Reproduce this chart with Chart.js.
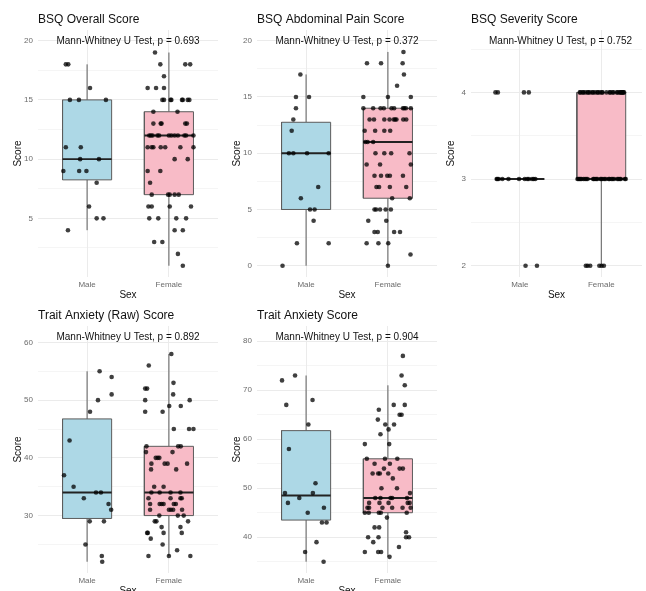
<!DOCTYPE html>
<html><head><meta charset="utf-8">
<script src="https://cdn.jsdelivr.net/npm/chart.js@4.4.0/dist/chart.umd.min.js"></script>
<style>
html,body{margin:0;padding:0;background:#fff;overflow:hidden;width:646px;height:591px;position:relative}
canvas{position:absolute}
</style></head><body>
<canvas id="c1" width="224" height="305" style="left:-2px;top:0px"></canvas>
<canvas id="c2" width="224" height="305" style="left:217px;top:0px"></canvas>
<canvas id="c3" width="215" height="305" style="left:431px;top:0px"></canvas>
<canvas id="c4" width="224" height="305" style="left:-2px;top:296px"></canvas>
<canvas id="c5" width="224" height="305" style="left:217px;top:296px"></canvas>
<script>
// ---------- categories ----------
const categories = ['Male', 'Female'];

// ---------- BSQ Overall Score ----------
const bsqOverallMale = [18,18,16,15,15,15,11,11,10,10,9,9,9,8,6,5,5,4];
const bsqOverallMaleJitter = [-0.26,-0.23,0.036,-0.21,-0.10,0.23,-0.26,-0.077,-0.085,0.145,-0.29,-0.097,-0.008,0.117,0.024,0.117,0.2,-0.234];
const bsqOverallFemale = [19,18,18,18,17,16,16,16,15,15,15,15,15,15,15,15,14,14,13,13,13,13,13,
  12,12,12,12,12,12,12,12,12,12,12,12,11,11,11,11,11,11,11,10,10,9,9,8,7,7,7,7,7,6,6,6,6,5,5,5,5,4,4,3,3,2,1];
const bsqOverallFemaleJitter = [-0.17,-0.105,0.20,0.26,-0.06,-0.26,-0.157,-0.06,-0.08,-0.06,0.02,0.03,0.16,0.17,0.23,0.25,
  -0.19,0.105,-0.19,-0.10,-0.09,0.20,0.22,-0.24,-0.22,-0.20,-0.14,-0.12,0.0,0.03,0.07,0.11,0.19,0.21,0.30,
  -0.26,-0.21,-0.19,-0.10,-0.045,0.14,0.30,0.07,0.23,-0.26,-0.105,-0.23,-0.21,-0.01,0.01,0.07,0.12,
  -0.25,-0.21,0.01,0.27,-0.24,-0.13,0.09,0.21,0.07,0.17,-0.18,-0.08,0.11,0.17];
// box stats: [lower whisker, Q1, median, Q3, upper whisker]
const bsqOverallBoxMale = [4, 8.25, 10, 15, 18];
const bsqOverallBoxFemale = [1, 7, 12, 14, 19];
const bsqOverallTicks = [5, 10, 15, 20];

// ---------- BSQ Abdominal Pain Score ----------
const bsqAbdMale = [17,15,15,14,13,12,10,10,10,10,7,6,5,5,4,2,2,0];
const bsqAbdMaleJitter = [-0.07,-0.124,0.036,-0.124,-0.156,-0.176,-0.21,-0.156,0.012,0.276,0.148,-0.064,0.048,0.104,0.092,-0.112,0.276,-0.288];
const bsqAbdFemale = [19,18,18,18,17,16,15,15,15,14,14,14,14,14,14,14,14,14,14,13,13,13,13,13,13,13,13,13,
  12,12,12,12,11,11,11,10,10,10,10,9,9,9,8,8,8,8,8,7,7,7,7,6,6,5,5,5,5,5,4,4,3,3,3,3,2,2,2,1,0];
const bsqAbdFemaleJitter = [0.19,-0.256,-0.084,0.18,0.196,0.112,-0.30,0.0,0.28,
  -0.3,-0.18,-0.09,-0.05,0.044,0.076,0.184,0.2,0.22,0.28,
  -0.224,-0.17,-0.044,0.02,0.072,0.088,0.104,0.188,0.224,
  -0.284,-0.156,-0.044,0.028,-0.276,-0.248,-0.18,-0.152,-0.044,0.04,0.264,-0.26,-0.096,0.28,
  -0.164,-0.084,-0.008,0.024,0.184,-0.14,-0.108,0.024,0.224,0.052,0.268,
  -0.164,-0.144,-0.096,-0.028,0.036,-0.24,-0.02,-0.164,-0.124,0.076,0.148,-0.26,-0.116,0.004,0.276,0.0];
const bsqAbdBoxMale = [0, 5, 10, 12.75, 17];
const bsqAbdBoxFemale = [0, 6, 11, 14, 19];
const bsqAbdTicks = [0, 5, 10, 15, 20];

// ---------- BSQ Severity Score ----------
const bsqSevMale = [4,4,4,4,3,3,3,3,3,3,3,3,3,3,3,3,2,2];
const bsqSevMaleJitter = [-0.30,-0.27,0.05,0.11,-0.285,-0.275,-0.26,-0.215,-0.14,-0.01,0.06,0.09,0.11,0.15,0.17,0.19,0.07,0.21];
const bsqSevFemale = [4,4,4,4,4,4,4,4,4,4,4,4,4,4,4,4,4,4,4,4,4,4,4,4,4,4,4,4,4,4,
  3,3,3,3,3,3,3,3,3,3,3,3,3,3,3,3,3,3,3,3,3,3,3,3,3,3,3,3,3,3,2,2,2,2,2,2];
const bsqSevFemaleJitter = [-0.264,-0.255,-0.228,-0.22,-0.196,-0.168,-0.16,-0.14,-0.112,-0.1,-0.076,-0.048,-0.04,-0.016,0.008,
  0.015,0.064,0.104,0.11,0.14,0.15,0.192,0.2,0.224,0.235,0.244,0.255,0.264,0.27,0.28,
  -0.292,-0.28,-0.268,-0.256,-0.244,-0.22,-0.2,-0.185,-0.168,-0.1,-0.09,-0.076,-0.06,-0.048,-0.008,
  0.0,0.02,0.04,0.056,0.092,0.1,0.124,0.14,0.156,0.196,0.21,0.228,0.24,0.3,0.29,
  -0.19,-0.168,-0.136,-0.024,0.004,0.032];
const bsqSevBoxMale = [3, 3, 3, 3, 3];
const bsqSevBoxFemale = [2, 3, 3, 4, 4];
const bsqSevTicks = [2, 3, 4];

// ---------- Trait Anxiety (Raw) Score ----------
const traitRawMale = [55,54,51,50,48,43,37,35,34,34,33,32,31,29,29,25,23,22];
const traitRawMaleJitter = [0.153,0.3,0.3,0.133,0.036,-0.214,-0.282,-0.165,0.109,0.169,-0.04,0.262,0.294,0.032,0.206,-0.02,0.18,0.185];
const traitRawFemale = [58,56,53,52,52,51,50,50,49,49,48,48,45,45,45,42,42,42,41,41,40,40,40,39,39,39,39,38,38,35,35,
  34,34,34,34,33,33,33,33,32,32,32,32,32,32,31,31,31,31,31,30,30,30,29,29,29,28,28,27,27,27,27,26,25,24,23,23,23];
const traitRawFemaleJitter = [0.03,-0.246,0.056,-0.29,-0.266,0.052,-0.29,0.254,0.004,0.145,-0.29,-0.077,0.06,0.246,0.3,
  -0.274,0.113,0.145,-0.28,0.044,-0.161,-0.137,-0.117,-0.214,-0.052,-0.016,0.222,-0.218,0.089,-0.18,-0.065,
  -0.214,-0.113,0.02,0.141,-0.25,0.02,0.141,0.157,-0.23,-0.113,-0.089,-0.065,0.06,0.085,
  -0.23,0.0,0.024,0.052,0.161,-0.117,0.109,0.181,-0.173,-0.153,0.234,-0.089,0.141,
  -0.266,-0.258,-0.065,0.157,-0.222,-0.077,0.1,-0.25,0.0,0.262];
const traitRawBoxMale = [22, 29.5, 34, 46.75, 55];
const traitRawBoxFemale = [23, 30, 34, 42, 58];
const traitRawTicks = [30, 40, 50, 60];

// ---------- Trait Anxiety Score ----------
const traitMale = [73,72,68,67,63,58,51,49,49,48,47,46,45,43,43,39,37,35];
const traitMaleJitter = [-0.135,-0.294,0.079,-0.242,0.028,-0.21,0.115,-0.258,0.083,-0.083,-0.222,0.218,0.02,0.194,0.25,0.127,-0.012,0.214];
const traitFemale = [77,73,71,67,67,66,65,65,64,63,63,62,61,59,59,56,56,56,55,55,54,54,54,53,53,53,53,52,50,50,49,
  48,48,48,48,48,47,47,47,47,47,46,46,46,46,46,46,45,45,45,45,45,44,42,42,41,40,40,40,40,39,38,37,37,37,36];
const traitFemaleJitter = [0.183,0.167,0.206,0.071,0.206,-0.111,0.143,0.167,-0.123,-0.032,0.075,0.008,-0.091,-0.282,0.016,
  -0.258,-0.036,0.115,-0.163,0.024,-0.048,0.143,0.183,-0.187,-0.119,-0.099,0.004,0.06,-0.079,0.111,0.27,
  -0.155,-0.091,0.032,0.052,0.234,-0.23,-0.103,0.008,0.242,0.266,-0.25,-0.23,-0.067,0.052,0.179,0.278,
  -0.282,-0.234,-0.111,-0.087,0.23,-0.012,-0.163,-0.107,0.222,-0.242,-0.115,0.222,0.258,-0.179,0.135,-0.282,-0.119,-0.083,0.02];
const traitBoxMale = [35, 43.5, 48.5, 61.75, 73];
const traitBoxFemale = [36, 45, 48, 56, 71];
const traitTicks = [40, 50, 60, 70, 80];

// ---------- test p-values ----------
const pValues = ['0.693', '0.372', '0.752', '0.892', '0.904'];

// ---------- rendering ----------
// use a narrow sans face when available (the reference text is condensed)
const probe = document.createElement('canvas').getContext('2d');
probe.font = '20px "Liberation Sans Narrow", monospace';
const wNarrow = probe.measureText('Mann-Whitney U Test').width;
probe.font = '20px monospace';
const wMono = probe.measureText('Mann-Whitney U Test').width;
const HAS_NARROW = Math.abs(wNarrow - wMono) > 0.5;
const FONT = HAS_NARROW ? '"Liberation Sans Narrow", "Liberation Sans", Arial, sans-serif'
                        : '"Liberation Sans", Arial, Helvetica, sans-serif';
const SZ = HAS_NARROW ? {title: 14.5, annot: 12, axisTitle: 10.5, tick: 9}
                      : {title: 12, annot: 10, axisTitle: 10, tick: 8};
Chart.defaults.font.family = FONT;

const BOX_HALF = 0.3;
const MALE_FILL = '#ADD8E6', FEMALE_FILL = '#F8BBC7';
const LINE_COL = '#5c5c5c';

const annotPlugin = {
  id: 'annot',
  afterDatasetsDraw(chart, args, opts) {
    const {ctx} = chart;
    const x = chart.scales.x, y = chart.scales.y;
    ctx.save();
    ctx.font = SZ.annot + 'px ' + FONT;
    ctx.fillStyle = '#111';
    ctx.textAlign = 'center';
    ctx.textBaseline = 'middle';
    ctx.fillText(opts.text, x.getPixelForValue(1.5), y.getPixelForValue(opts.y));
    ctx.restore();
  }
};

function boxSets(cat, s, fill) {
  const [lo, q1, med, q3, hi] = s;
  const base = {type: 'line', pointRadius: 0, tension: 0, fill: false, borderColor: LINE_COL, borderWidth: 1};
  return [
    Object.assign({}, base, {order: 4, data: [{x: cat, y: lo}, {x: cat, y: q1}]}),
    Object.assign({}, base, {order: 4, data: [{x: cat, y: q3}, {x: cat, y: hi}]}),
    Object.assign({}, base, {order: 3, fill: 'shape', backgroundColor: fill,
      data: [{x: cat - BOX_HALF, y: q1}, {x: cat + BOX_HALF, y: q1}, {x: cat + BOX_HALF, y: q3},
             {x: cat - BOX_HALF, y: q3}, {x: cat - BOX_HALF, y: q1}]}),
    Object.assign({}, base, {order: 2, borderColor: '#222', borderWidth: 1.9,
      data: [{x: cat - BOX_HALF, y: med}, {x: cat + BOX_HALF, y: med}]})
  ];
}

function pointsSet(cat, vals, jit) {
  return {type: 'scatter', order: 0, pointRadius: 2.3, pointBorderWidth: 0,
    backgroundColor: 'rgba(0,0,0,0.75)', borderColor: 'rgba(0,0,0,0)',
    data: vals.map((v, i) => ({x: cat + jit[i], y: v}))};
}

function panel(id, cfg) {
  const majors = cfg.ticks;
  const step = majors[1] - majors[0];
  const all = [];
  majors.forEach(v => { all.push(v); all.push(v - step / 2); });
  all.push(majors[majors.length - 1] + step / 2);
  const tickVals = all.filter(v => v >= cfg.yMin && v <= cfg.yMax).sort((a, b) => a - b);
  const tLH = SZ.title * 1.2, aLH = SZ.axisTitle * 1.2, kLH = SZ.tick * 1.2;
  new Chart(document.getElementById(id), {
    type: 'scatter',
    data: {datasets: [
      pointsSet(1, cfg.male, cfg.maleJ), pointsSet(2, cfg.female, cfg.femaleJ),
      ...boxSets(1, cfg.boxM, MALE_FILL), ...boxSets(2, cfg.boxF, FEMALE_FILL)
    ]},
    options: {
      responsive: false, animation: false, events: [],
      layout: {padding: 0},
      plugins: {
        legend: {display: false}, tooltip: {enabled: false},
        title: {display: true, text: cfg.title, align: 'start', fullSize: false, color: '#111',
          font: {size: SZ.title, weight: 'normal'},
          padding: {top: 19.3 - tLH / 2, bottom: 30 - (19.3 - tLH / 2) - tLH}},
        annot: {text: 'Mann-Whitney U Test, p = ' + cfg.p, y: cfg.annotY}
      },
      scales: {
        x: {type: 'linear', min: 0.4, max: cfg.xMax,
          afterBuildTicks: s => { s.ticks = [1, 2].map(v => ({value: v})); },
          afterFit: s => { s.height = 28; },
          ticks: {callback: v => categories[v - 1], font: {size: SZ.tick}, color: '#6b6b6b',
            padding: 8 - kLH / 2, maxRotation: 0, autoSkip: false},
          grid: {color: '#EBEBEB', lineWidth: 1, drawTicks: false},
          border: {display: false},
          title: {display: true, text: 'Sex', font: {size: SZ.axisTitle}, color: '#111',
            padding: {top: 0, bottom: 10 - aLH / 2}}
        },
        y: {type: 'linear', min: cfg.yMin, max: cfg.yMax,
          afterBuildTicks: s => { s.ticks = tickVals.map(v => ({value: v})); },
          afterFit: s => { s.width = 40; },
          ticks: {callback: v => majors.includes(v) ? String(v) : '', font: {size: SZ.tick}, color: '#6b6b6b', padding: 5, autoSkip: false},
          grid: {color: '#EBEBEB', drawTicks: false,
            lineWidth: c => (c.tick && majors.includes(c.tick.value)) ? 1 : 0.5},
          border: {display: false},
          title: {display: true, text: 'Score', font: {size: SZ.axisTitle}, color: '#111',
            padding: {top: 20 - aLH / 2, bottom: 0}}
        }
      }
    },
    plugins: [annotPlugin]
  });
}

panel('c1', {title: 'BSQ Overall Score', p: pValues[0], yMin: 0.05, yMax: 20.9, annotY: 19.95, xMax: 2.6,
  ticks: bsqOverallTicks, male: bsqOverallMale, maleJ: bsqOverallMaleJitter, female: bsqOverallFemale, femaleJ: bsqOverallFemaleJitter,
  boxM: bsqOverallBoxMale, boxF: bsqOverallBoxFemale});
panel('c2', {title: 'BSQ Abdominal Pain Score', p: pValues[1], yMin: -1, yMax: 20.95, annotY: 19.95, xMax: 2.6,
  ticks: bsqAbdTicks, male: bsqAbdMale, maleJ: bsqAbdMaleJitter, female: bsqAbdFemale, femaleJ: bsqAbdFemaleJitter,
  boxM: bsqAbdBoxMale, boxF: bsqAbdBoxFemale});
panel('c3', {title: 'BSQ Severity Score', p: pValues[2], yMin: 1.87, yMax: 4.72, annotY: 4.59, xMax: 2.5,
  ticks: bsqSevTicks, male: bsqSevMale, maleJ: bsqSevMaleJitter, female: bsqSevFemale, femaleJ: bsqSevFemaleJitter,
  boxM: bsqSevBoxMale, boxF: bsqSevBoxFemale});
panel('c4', {title: 'Trait Anxiety (Raw) Score', p: pValues[3], yMin: 20.05, yMax: 62.85, annotY: 60.9, xMax: 2.6,
  ticks: traitRawTicks, male: traitRawMale, maleJ: traitRawMaleJitter, female: traitRawFemale, femaleJ: traitRawFemaleJitter,
  boxM: traitRawBoxMale, boxF: traitRawBoxFemale});
panel('c5', {title: 'Trait Anxiety Score', p: pValues[4], yMin: 32.7, yMax: 83.1, annotY: 80.85, xMax: 2.6,
  ticks: traitTicks, male: traitMale, maleJ: traitMaleJitter, female: traitFemale, femaleJ: traitFemaleJitter,
  boxM: traitBoxMale, boxF: traitBoxFemale});
</script>
</body></html>
